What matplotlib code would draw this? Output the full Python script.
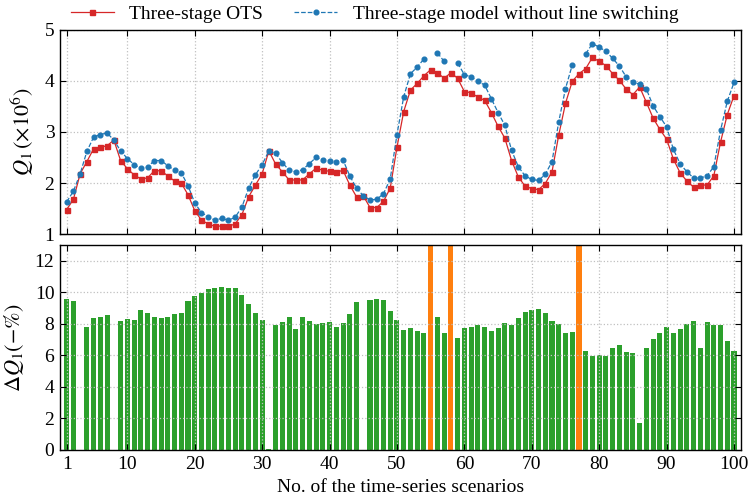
import numpy as np
import matplotlib
matplotlib.use("Agg")
import matplotlib.pyplot as plt

plt.rcParams["font.family"] = ["Liberation Serif", "DejaVu Serif"]
plt.rcParams["mathtext.fontset"] = "stix"

# Scenario numbers and objective values (x 10^6)
scenarios = np.arange(1, 101)

q_ots = [
    1.48, 1.68, 2.18, 2.42, 2.67, 2.70, 2.73, 2.84, 2.44, 2.28,
    2.16, 2.08, 2.10, 2.24, 2.24, 2.14, 2.04, 2.00, 1.77, 1.46,
    1.27, 1.20, 1.15, 1.16, 1.15, 1.20, 1.38, 1.73, 1.96, 2.18,
    2.63, 2.37, 2.22, 2.06, 2.06, 2.06, 2.18, 2.29, 2.25, 2.23,
    2.21, 2.25, 1.96, 1.73, 1.75, 1.52, 1.52, 1.64, 1.90, 2.70,
    3.40, 3.82, 3.95, 4.10, 4.22, 4.16, 4.05, 4.16, 4.05, 3.79,
    3.77, 3.68, 3.62, 3.38, 3.11, 2.88, 2.44, 2.12, 1.94, 1.89,
    1.87, 1.99, 2.22, 2.94, 3.56, 3.99, 4.14, 4.24, 4.46, 4.38,
    4.30, 4.14, 4.01, 3.84, 3.73, 3.88, 3.58, 3.27, 3.05, 2.86,
    2.47, 2.20, 2.04, 1.92, 1.96, 1.96, 2.14, 2.80, 3.34, 3.71,
]

nan = np.nan
q_no_switch = [
    1.63, 1.84, 2.18, 2.62, 2.90, 2.95, 2.98, 2.84, 2.63, 2.48,
    2.36, 2.29, 2.31, 2.44, 2.44, 2.34, 2.25, 2.20, 1.95, 1.61,
    1.42, 1.34, 1.27, 1.31, 1.27, 1.33, 1.53, 1.90, 2.16, 2.36,
    2.63, 2.58, 2.40, 2.25, 2.22, 2.26, 2.38, 2.50, 2.46, 2.44,
    2.42, 2.45, 2.14, 1.90, 1.75, 1.67, 1.68, 1.79, 2.08, 2.95,
    3.69, 4.14, 4.27, 4.43, nan, 4.55, 4.38, nan, 4.35, 4.12,
    4.08, 3.99, 3.92, 3.65, 3.38, 3.13, 2.64, 2.32, 2.14, 2.07,
    2.05, 2.17, 2.42, 3.20, 3.85, 4.31, nan, 4.53, 4.73, 4.66,
    4.58, 4.44, 4.29, 4.08, 3.98, 3.93, 3.84, 3.51, 3.30, 3.10,
    2.66, 2.38, 2.22, 2.10, 2.10, 2.14, 2.32, 3.03, 3.60, 3.97,
]

# Relative reduction of Q1 (%)
dq_pct = [
    9.58, 9.45, 0.00, 7.80, 8.37, 8.44, 8.56, 0.00, 8.18, 8.31,
    8.25, 8.88, 8.69, 8.44, 8.37, 8.44, 8.63, 8.69, 9.45, 9.77,
    9.96, 10.21, 10.27, 10.34, 10.27, 10.27, 9.83, 9.26, 8.69, 8.25,
    0.06, 7.93, 8.12, 8.44, 7.67, 8.44, 8.18, 7.99, 8.05, 8.12,
    7.80, 8.05, 8.63, 9.39, 0.00, 9.51, 9.58, 9.51, 8.82, 8.25,
    7.61, 7.74, 7.55, 7.42, nan, 8.44, 7.42, nan, 7.10, 7.74,
    7.80, 7.93, 7.80, 7.55, 7.74, 8.05, 7.93, 8.37, 8.75, 8.88,
    8.94, 8.69, 8.18, 7.99, 7.42, 7.48, nan, 6.28, 5.96, 6.03,
    5.96, 6.47, 6.66, 6.22, 6.15, 1.71, 6.47, 7.04, 7.42, 7.80,
    7.42, 7.67, 7.99, 8.18, 6.47, 8.12, 7.93, 7.93, 6.91, 6.28,
]

# Scenarios where the model without line switching has no solution
infeasible = [55, 58, 77]

x_ticks = [1, 10, 20, 30, 40, 50, 60, 70, 80, 90, 100]
q_ticks = [1, 2, 3, 4, 5]
dq_ticks = [0, 2, 4, 6, 8, 10, 12]
DQ_TOP = 13

fig = plt.figure(figsize=(7.49, 4.97), dpi=100)
ax1 = fig.add_axes([0.080, 0.529, 0.909, 0.411])
ax2 = fig.add_axes([0.080, 0.0946, 0.909, 0.413], sharex=ax1)

red = "#d62728"
blue = "#1f77b4"
green = "#2ca02c"
orange = "#ff7f0e"

ax1.plot(scenarios, q_ots, color=red, lw=0.9, marker="s", ms=3.6,
         label="Three-stage OTS")
ax1.plot(scenarios, q_no_switch, color=blue, lw=0.9, ls="--", marker="o",
         ms=3.4, label="Three-stage model without line switching")
ax1.set_ylim(1, 5)
ax1.set_yticks(q_ticks)
ax1.set_ylabel(r"$Q_1\,(\times 10^6)$", fontsize=16, labelpad=6)

ax2.bar(scenarios, np.nan_to_num(dq_pct), width=0.75, color=green, zorder=1)
ax2.bar(infeasible, [DQ_TOP] * len(infeasible), width=0.75, color=orange,
        zorder=1)
ax2.set_ylim(0, DQ_TOP)
ax2.set_yticks(dq_ticks)
ax2.set_ylabel(r"$\Delta Q_1(-\%)$", fontsize=16, labelpad=6)
ax2.set_xlabel("No. of the time-series scenarios", fontsize=14, labelpad=5)
ax2.set_axisbelow(False)

ax1.set_xlim(0, 101)
ax2.set_xticks(x_ticks)

for ax in (ax1, ax2):
    ax.grid(True, ls=":", color="#c0c0c0", lw=0.9)
    ax.tick_params(direction="in", top=True, right=True, labelsize=14,
                   length=4, width=0.8, pad=4)
    for sp in ax.spines.values():
        sp.set_linewidth(1.0)
ax1.tick_params(labelbottom=False)

fig.legend(loc="upper center", bbox_to_anchor=(0.5, 1.025), ncol=2,
           frameon=False, fontsize=14, numpoints=1, handlelength=2.2,
           columnspacing=1.6, handletextpad=0.8)

fig.savefig("out.png", dpi=100)
